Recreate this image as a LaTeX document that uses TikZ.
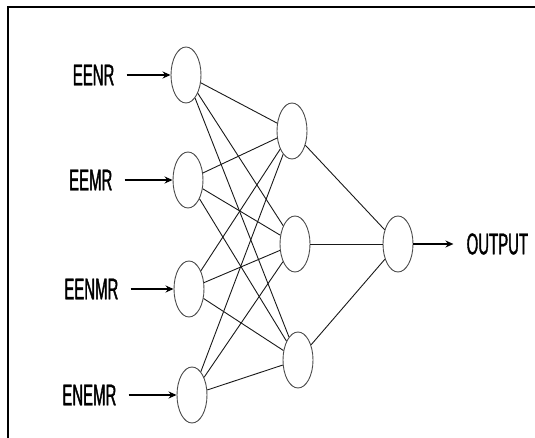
\documentclass[tikz,border=0pt]{standalone}
\usepackage{fontspec}
\newfontfamily\nnfont[FakeStretch=0.5, FakeBold=1.2]{Liberation Sans}
\usetikzlibrary{positioning,arrows.meta,shapes.geometric}

\begin{document}
\begin{tikzpicture}[
    x=1bp, y=-1bp,
    neuron/.style={ellipse, draw=black!70, line width=0.9bp, fill=white,
                   minimum width=30bp, minimum height=56bp, inner sep=0pt},
    lbl/.style={font=\nnfont\fontsize{30}{30}\selectfont, inner sep=1bp},
    conn/.style={line width=0.9bp, black!90},
    arr/.style={-{Stealth[length=8bp, width=7bp]}, line width=1.4bp},
  ]
  \useasboundingbox (0,0) rectangle (535,438);

  % --- frame ---
  \draw[line width=2bp] (535,7) -- (8,7) -- (8,438);

  % --- input layer ---
  \node[neuron] (in1) at (186, 75)  {};
  \node[neuron] (in2) at (188, 180) {};
  \node[neuron] (in3) at (189, 289) {};
  \node[neuron] (in4) at (192, 395) {};

  % --- hidden layer ---
  \node[neuron] (hid1) at (292, 131) {};
  \node[neuron] (hid2) at (295, 244) {};
  \node[neuron] (hid3) at (298, 360) {};

  % --- output layer ---
  \node[neuron] (out) at (398, 244) {};

  % --- input labels ---
  \node[lbl, left=55bp of in1] (lin1) {EENR};
  \node[lbl, left=59bp of in2] (lin2) {EEMR};
  \node[lbl, left=54bp of in3] (lin3) {EENMR};
  \node[lbl, left=59bp of in4] (lin4) {ENEMR};
  \node[lbl, right=52bp of out] (lout) {OUTPUT};

  \draw[arr] ([xshift=11bp]lin1.east) -- (in1);
  \draw[arr] ([xshift=11bp]lin2.east) -- (in2);
  \draw[arr] ([xshift=11bp]lin3.east) -- (in3);
  \draw[arr] ([xshift=11bp]lin4.east) -- (in4);
  \draw[arr] (out) -- ([xshift=-12bp]lout.west);

  % --- weights ---
  \draw[conn] (in1) -- (hid1);  \draw[conn] (in1) -- (hid2);  \draw[conn] (in1) -- (hid3);
  \draw[conn] (in2) -- (hid1);  \draw[conn] (in2) -- (hid2);  \draw[conn] (in2) -- (hid3);
  \draw[conn] (in3) -- (hid1);  \draw[conn] (in3) -- (hid2);  \draw[conn] (in3) -- (hid3);
  \draw[conn] (in4) -- (hid1);  \draw[conn] (in4) -- (hid2);  \draw[conn] (in4) -- (hid3);

  \draw[conn] (hid1) -- (out);
  \draw[conn] (hid2) -- (out);
  \draw[conn] (hid3) -- (out);

\end{tikzpicture}
\end{document}
